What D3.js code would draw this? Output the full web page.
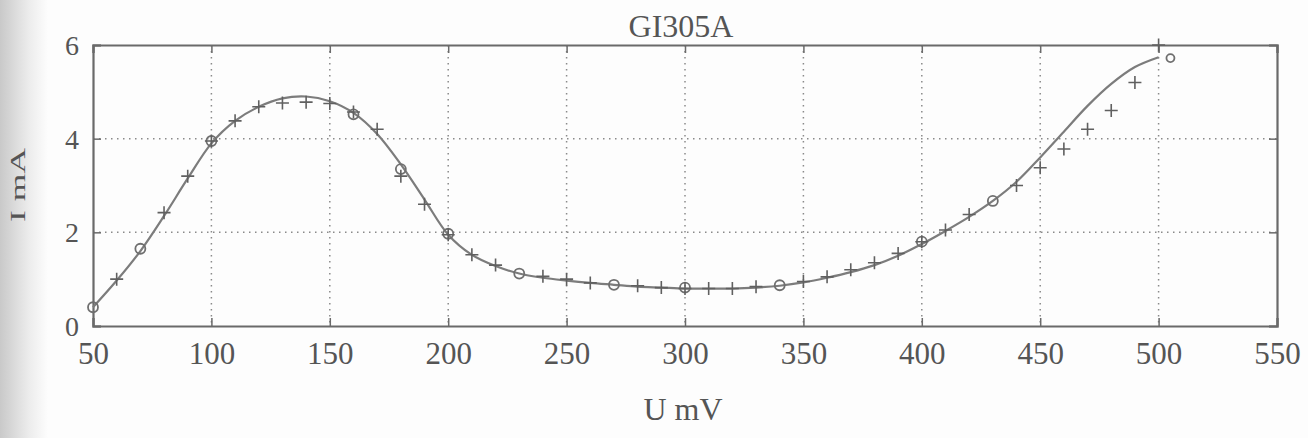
<!DOCTYPE html>
<html>
<head>
<meta charset="utf-8">
<script src="https://cdn.jsdelivr.net/npm/d3@7"></script>
<style>
  body { margin: 0; background: #fdfdfd; }
  svg { display: block; font-family: "Liberation Serif", "DejaVu Serif", serif; }
</style>
</head>
<body>
<div id="chart"></div>
<script>
// --- data ---
const title = "GI305A";
const xLabel = "U mV";
const yLabel = "I mA";
const xTicks = [50, 100, 150, 200, 250, 300, 350, 400, 450, 500, 550];
const yTicks = [0, 2, 4, 6];

// fitted curve (solid line)
const curveU = [50, 60, 70, 80, 90, 100, 110, 120, 130, 140, 150, 160, 170, 180, 190, 200,
  210, 220, 230, 240, 250, 260, 270, 280, 290, 300, 310, 320, 330, 340, 350, 360, 370, 380,
  390, 400, 410, 420, 430, 440, 450, 460, 470, 480, 490, 500];
const curveI = [0.4, 0.97, 1.6, 2.35, 3.15, 3.9, 4.38, 4.68, 4.86, 4.9, 4.8, 4.55, 4.1, 3.45, 2.7, 1.95,
  1.52, 1.28, 1.12, 1.03, 0.97, 0.92, 0.88, 0.84, 0.82, 0.8, 0.8, 0.8, 0.82, 0.86, 0.93, 1.03, 1.15, 1.3,
  1.5, 1.75, 2.03, 2.33, 2.67, 3.08, 3.6, 4.15, 4.7, 5.17, 5.53, 5.74];

// measured points "+"
const plusU = [60, 80, 90, 100, 110, 120, 130, 140, 150, 160, 170, 180, 190, 200, 210, 220, 240, 250,
  260, 280, 290, 300, 310, 320, 330, 350, 360, 370, 380, 390, 400, 410, 420, 440, 450, 460, 470, 480, 490, 500];
const plusI = [1.0, 2.42, 3.2, 3.95, 4.38, 4.68, 4.76, 4.78, 4.75, 4.57, 4.2, 3.2, 2.6, 1.95, 1.52, 1.3, 1.06, 1.0,
  0.92, 0.86, 0.82, 0.8, 0.8, 0.8, 0.84, 0.95, 1.05, 1.2, 1.35, 1.55, 1.8, 2.05, 2.38, 3.0, 3.38, 3.78, 4.2, 4.6, 5.2, 6.0];

// measured points "o"
const circU = [50, 70, 100, 160, 180, 200, 230, 270, 300, 340, 400, 430, 505];
const circI = [0.4, 1.65, 3.95, 4.52, 3.35, 1.97, 1.12, 0.88, 0.82, 0.87, 1.8, 2.67, 5.72];

// --- layout ---
const W = 1308, H = 438;
const margin = {top: 45, right: 31, bottom: 112, left: 93};
const width = W - margin.left - margin.right;
const height = H - margin.top - margin.bottom;
const ink = "#6a6a6a";

const svg = d3.select("#chart").append("svg")
    .attr("width", W)
    .attr("height", H);

// scanned page edge on the left
const grad = svg.append("defs").append("linearGradient").attr("id", "edge");
grad.append("stop").attr("offset", "0%").attr("stop-color", "#c9c9c9");
grad.append("stop").attr("offset", "60%").attr("stop-color", "#ececec");
grad.append("stop").attr("offset", "100%").attr("stop-color", "#fdfdfd");
svg.append("rect").attr("width", 48).attr("height", H).attr("fill", "url(#edge)");

const g = svg.append("g")
    .attr("transform", `translate(${margin.left},${margin.top})`);

const x = d3.scaleLinear().domain([50, 550]).range([0, width]);
const y = d3.scaleLinear().domain([0, 6]).range([height, 0]);

// grid
g.append("g").selectAll("line").data(xTicks.slice(1, -1)).join("line")
    .attr("x1", d => x(d)).attr("x2", d => x(d))
    .attr("y1", 0).attr("y2", height)
    .attr("stroke", "#8a8a8a").attr("stroke-width", 1.5)
    .attr("stroke-dasharray", "1.5,4.5");
g.append("g").selectAll("line").data(yTicks.slice(1, -1)).join("line")
    .attr("x1", 0).attr("x2", width)
    .attr("y1", d => y(d)).attr("y2", d => y(d))
    .attr("stroke", "#8a8a8a").attr("stroke-width", 1.5)
    .attr("stroke-dasharray", "1.5,4.5");

// axes (MATLAB style, ticks inside)
const xAxis = g.append("g").attr("transform", `translate(0,${height})`)
    .call(d3.axisBottom(x).tickValues(xTicks).tickSize(-8).tickPadding(16).tickFormat(d3.format("d")));
const xTop = g.append("g")
    .call(d3.axisTop(x).tickValues(xTicks).tickSize(-8).tickFormat(""));
const yAxis = g.append("g")
    .call(d3.axisLeft(y).tickValues(yTicks).tickSize(-8).tickPadding(14).tickFormat(d3.format("d")));
const yRight = g.append("g").attr("transform", `translate(${width},0)`)
    .call(d3.axisRight(y).tickValues(yTicks).tickSize(-8).tickFormat(""));

[xAxis, xTop, yAxis, yRight].forEach(a => {
    a.select(".domain").attr("stroke", ink).attr("stroke-width", 2.2);
    a.selectAll(".tick line").attr("stroke", ink).attr("stroke-width", 1.5);
    a.selectAll("text").attr("fill", "#555").attr("font-family", "Liberation Serif, serif");
});
xAxis.selectAll("text").attr("font-size", 31).attr("dy", "0.72em");
yAxis.selectAll("text").attr("font-size", 28).attr("dy", "0.34em");

// fitted curve
const line = d3.line()
    .x(d => x(d[0]))
    .y(d => y(d[1]))
    .curve(d3.curveCatmullRom.alpha(0.5));
g.append("path")
    .datum(curveU.map((u, i) => [u, curveI[i]]))
    .attr("d", line)
    .attr("fill", "none")
    .attr("stroke", "#7c7c7c")
    .attr("stroke-width", 2.2);

// "o" markers
g.append("g").selectAll("circle").data(circU.map((u, i) => [u, circI[i]])).join("circle")
    .attr("cx", d => x(d[0])).attr("cy", d => y(d[1]))
    .attr("r", d => d[0] > 500 ? 4 : 5)
    .attr("fill", "none").attr("stroke", "#6f6f6f").attr("stroke-width", 1.8);

// "+" markers
const s = 6.5;
g.append("g").selectAll("path").data(plusU.map((u, i) => [u, plusI[i]])).join("path")
    .attr("d", d => {
        const px = x(d[0]), py = y(d[1]);
        return `M${px - s},${py}H${px + s}M${px},${py - s}V${py + s}`;
    })
    .attr("stroke", "#606060").attr("stroke-width", 1.6).attr("fill", "none");

// texts
svg.append("text")
    .attr("x", margin.left + width / 2 - 4).attr("y", 37)
    .attr("text-anchor", "middle")
    .attr("font-size", 32).attr("fill", "#555")
    .text(title);

svg.append("text")
    .attr("x", margin.left + width / 2 - 2).attr("y", 420)
    .attr("text-anchor", "middle")
    .attr("font-size", 32).attr("fill", "#555")
    .text(xLabel);

svg.append("text")
    .attr("transform", "translate(25,185) rotate(-90)")
    .attr("text-anchor", "middle")
    .attr("font-size", 21).attr("fill", "#555")
    .attr("textLength", 74).attr("lengthAdjust", "spacingAndGlyphs")
    .text(yLabel);
</script>
</body>
</html>
